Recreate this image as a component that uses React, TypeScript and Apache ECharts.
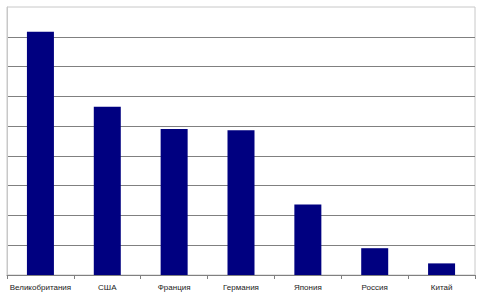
import React, { useEffect, useRef } from "react";
import * as echarts from "echarts";

const categories = ["Великобритания", "США", "Франция", "Германия", "Япония", "Россия", "Китай"];
const values = [8.17, 5.65, 4.9, 4.86, 2.37, 0.9, 0.39];
const yMin = 0;
const yMax = 9;
const yInterval = 1;

export default function App() {
  const ref = useRef<HTMLDivElement>(null);
  useEffect(() => {
    if (!ref.current) return;
    const chart = echarts.init(ref.current, null, { renderer: "svg" });
    chart.setOption({
      animation: false,
      backgroundColor: "#ffffff",
      grid: {
        left: 7,
        right: 8,
        top: 7,
        bottom: 25,
        show: true,
        borderColor: "#c8c8c8",
        borderWidth: 1,
        backgroundColor: "transparent",
      },
      xAxis: {
        type: "category",
        data: categories,
        axisLine: { show: true, lineStyle: { color: "#808080", width: 1 } },
        axisTick: { show: true, length: 4, alignWithLabel: false, lineStyle: { color: "#808080" } },
        axisLabel: {
          color: "#1a1a1a",
          fontSize: 8,
          fontFamily: "Liberation Sans, Arial, sans-serif",
          margin: 8,
          interval: 0,
        },
      },
      yAxis: {
        type: "value",
        min: yMin,
        max: yMax,
        interval: yInterval,
        axisLabel: { show: false },
        axisTick: { show: false },
        axisLine: { show: true, lineStyle: { color: "#c8c8c8" } },
        splitLine: {
          show: true,
          showMinLine: false,
          showMaxLine: false,
          lineStyle: { color: "#808080", width: 1 },
        },
      },
      series: [
        {
          type: "bar",
          data: values,
          barWidth: 27,
          itemStyle: { color: "#000080" },
        },
      ],
    });
    return () => chart.dispose();
  }, []);
  return <div ref={ref} style={{ width: 483, height: 300, position: "absolute", left: 0, top: 0 }} />;
}
